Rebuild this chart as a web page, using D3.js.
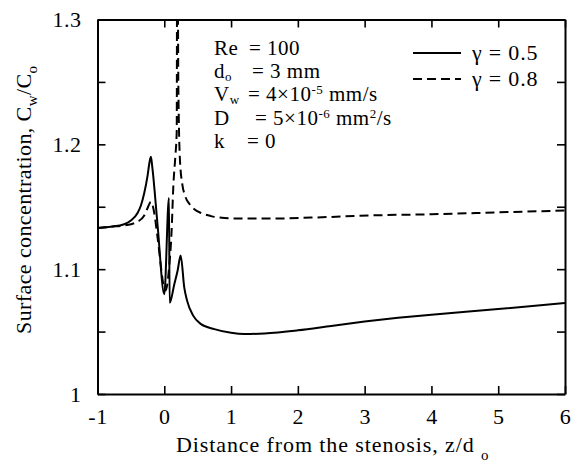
<!DOCTYPE html>
<html>
<head>
<meta charset="utf-8">
<script src="https://cdn.jsdelivr.net/npm/d3@7"></script>
<style>
  body { margin: 0; background: #fff; }
  text { font-family: "Liberation Serif", "Times New Roman", serif; fill: #000; }
</style>
</head>
<body>
<svg class="chart"></svg>
<script>
// Width and height
var width = 572, height = 465;
var margin = { left: 97.5, right: 7, top: 19.5, bottom: 71 };

// gamma = 0.5 (solid)
var xSolid = [-1, -0.8, -0.6, -0.5, -0.4, -0.35, -0.3, -0.25, -0.22, -0.2, -0.18, -0.1, 0.0, 0.07, 0.08, 0.15, 0.2, 0.245, 0.3, 0.34, 0.43, 0.55, 0.75, 1.0, 1.2, 1.5, 2, 2.5, 3, 3.5, 4, 5, 6];
var ySolid = [1.133, 1.134, 1.136, 1.139, 1.145, 1.151, 1.161, 1.175, 1.186, 1.190, 1.182, 1.135, 1.080, 1.157, 1.073, 1.088, 1.099, 1.111, 1.085, 1.075, 1.063, 1.056, 1.052, 1.049, 1.048, 1.0485, 1.051, 1.0545, 1.058, 1.061, 1.0635, 1.068, 1.073];

// gamma = 0.8 (dashed)
var xDashed = [-1, -0.8, -0.6, -0.5, -0.4, -0.3, -0.25, -0.2, -0.15, -0.1, 0.0, 0.02, 0.07, 0.11, 0.135, 0.165, 0.186, 0.195, 0.21, 0.235, 0.27, 0.31, 0.38, 0.45, 0.55, 0.7, 0.9, 1.2, 1.6, 2.2, 3.2, 4, 5, 6];
var yDashed = [1.133, 1.134, 1.135, 1.136, 1.138, 1.143, 1.149, 1.154, 1.145, 1.125, 1.085, 1.083, 1.100, 1.131, 1.166, 1.19, 1.21, 1.45, 1.25, 1.187, 1.168, 1.159, 1.152, 1.148, 1.145, 1.1425, 1.141, 1.1405, 1.1405, 1.1413, 1.1432, 1.144, 1.1455, 1.147];

var xTicks = [-1, 0, 1, 2, 3, 4, 5, 6];
var yTicks = [1, 1.1, 1.2, 1.3];
var yMinorTicks = [1.05, 1.15, 1.25];
var legendLabels = ["γ = 0.5", "γ = 0.8"];

var svg = d3.select(".chart")
  .attr("width", width)
  .attr("height", height);

var x = d3.scaleLinear().domain([-1, 6]).range([margin.left, width - margin.right]);
var y = d3.scaleLinear().domain([1, 1.3]).range([height - margin.bottom, margin.top]);

svg.append("clipPath").attr("id", "plot-clip")
  .append("rect")
  .attr("x", x(-1)).attr("y", y(1.3))
  .attr("width", x(6) - x(-1)).attr("height", y(1) - y(1.3));

// Axes with inward ticks on all four sides
var allY = yTicks.concat(yMinorTicks);
var gBottom = svg.append("g").attr("transform", "translate(0," + y(1) + ")")
  .call(d3.axisBottom(x).tickValues(xTicks).tickSizeInner(-8).tickSizeOuter(0).tickPadding(14)
    .tickFormat(function (d) { return String(d); }));
var gTop = svg.append("g").attr("transform", "translate(0," + y(1.3) + ")")
  .call(d3.axisTop(x).tickValues(xTicks).tickSizeInner(-8).tickSizeOuter(0).tickFormat(""));
var gLeft = svg.append("g").attr("transform", "translate(" + x(-1) + ",0)")
  .call(d3.axisLeft(y).tickValues(allY).tickSizeInner(-8).tickSizeOuter(0).tickPadding(16)
    .tickFormat(function (d) { return yTicks.indexOf(d) >= 0 ? String(d) : ""; }));
var gRight = svg.append("g").attr("transform", "translate(" + x(6) + ",0)")
  .call(d3.axisRight(y).tickValues(allY).tickSizeInner(-8).tickSizeOuter(0).tickFormat(""));

[gBottom, gTop, gLeft, gRight].forEach(function (g) {
  g.select(".domain").attr("stroke", "#000").attr("stroke-width", 2);
  g.selectAll(".tick line").attr("stroke", "#000").attr("stroke-width", 1.6);
  g.selectAll(".tick text").style("font-size", "22px").attr("fill", "#000")
    .style("font-family", "Liberation Serif, serif").style("letter-spacing", "0.5px");
});

// Curves
var line = d3.line()
  .x(function (d) { return x(d[0]); })
  .y(function (d) { return y(d[1]); })
  .curve(d3.curveMonotoneX);

var plot = svg.append("g").attr("clip-path", "url(#plot-clip)");
plot.append("path")
  .datum(d3.zip(xSolid, ySolid))
  .attr("d", line)
  .attr("fill", "none").attr("stroke", "#000").attr("stroke-width", 2);
plot.append("path")
  .datum(d3.zip(xDashed, yDashed))
  .attr("d", line)
  .attr("fill", "none").attr("stroke", "#000").attr("stroke-width", 2)
  .attr("stroke-dasharray", "9,5");

// Legend
var legend = svg.append("g");
legendLabels.forEach(function (lab, i) {
  var ly = 53 + i * 26;
  legend.append("line")
    .attr("x1", 413).attr("x2", 461).attr("y1", ly).attr("y2", ly)
    .attr("stroke", "#000").attr("stroke-width", 2)
    .attr("stroke-dasharray", i === 1 ? "9,5" : null);
  legend.append("text")
    .attr("x", 472).attr("y", ly + 7)
    .style("font-size", "22px").style("letter-spacing", "0.8px")
    .text(lab);
});

// Parameter annotation
var note = svg.append("g").style("font-size", "21px").style("letter-spacing", "0.5px");
var t1 = note.append("text").attr("x", 214).attr("y", 55);
t1.append("tspan").text("Re");
t1.append("tspan").attr("x", 249).text("= 100");

var t2 = note.append("text").attr("x", 214).attr("y", 78);
t2.append("tspan").text("d");
t2.append("tspan").attr("dy", 3).style("font-size", "13px").text("o");
t2.append("tspan").attr("x", 252).attr("dy", -3).text("= 3 mm");

var t3 = note.append("text").attr("x", 214).attr("y", 101);
t3.append("tspan").text("V");
t3.append("tspan").attr("dy", 3).style("font-size", "13px").text("w");
t3.append("tspan").attr("x", 248).attr("dy", -3).text("= 4×10");
t3.append("tspan").attr("dy", -7).style("font-size", "13px").text("-5");
t3.append("tspan").attr("dy", 7).text(" mm/s");

var t4 = note.append("text").attr("x", 214).attr("y", 125);
t4.append("tspan").text("D");
t4.append("tspan").attr("x", 255).text("= 5×10");
t4.append("tspan").attr("dy", -7).style("font-size", "13px").text("-6");
t4.append("tspan").attr("dy", 7).text(" mm");
t4.append("tspan").attr("dy", -7).style("font-size", "13px").text("2");
t4.append("tspan").attr("dy", 7).text("/s");

var t5 = note.append("text").attr("x", 214).attr("y", 148);
t5.append("tspan").text("k");
t5.append("tspan").attr("x", 247).text("= 0");

// Axis titles
var xt = svg.append("text")
  .attr("x", 176).attr("y", 452)
  .style("font-size", "22px").style("letter-spacing", "0.9px");
xt.append("tspan").text("Distance from the stenosis, z/d ");
xt.append("tspan").attr("dy", 8).style("font-size", "15px").text("o");

var yt = svg.append("text")
  .attr("transform", "translate(31,334) rotate(-90)")
  .style("font-size", "22px").style("letter-spacing", "0.4px");
yt.append("tspan").text("Surface concentration, C");
yt.append("tspan").attr("dy", 6).style("font-size", "15px").text("w");
yt.append("tspan").attr("dy", -6).text("/C");
yt.append("tspan").attr("dy", 6).style("font-size", "15px").text("o");
</script>
</body>
</html>
